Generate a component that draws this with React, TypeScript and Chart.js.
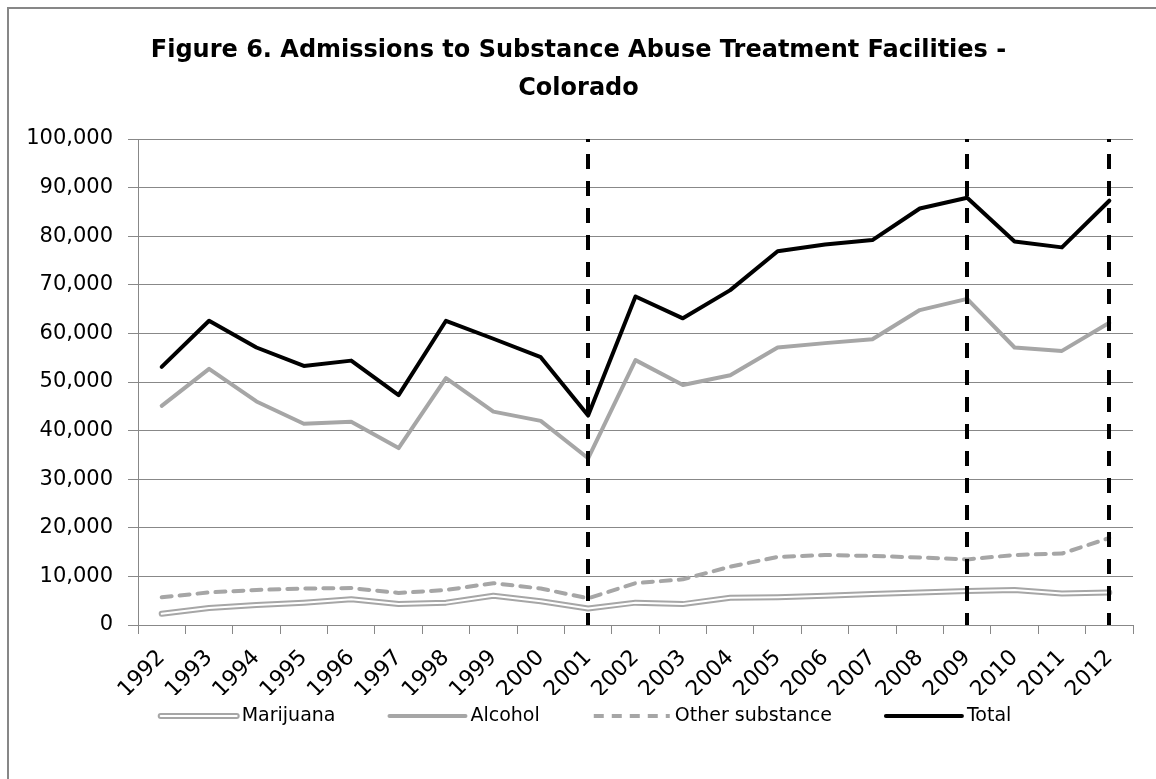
import React, { useEffect, useRef } from "react";
import { Chart, registerables } from "chart.js";

Chart.register(...registerables);

const years = ["1992","1993","1994","1995","1996","1997","1998","1999","2000","2001","2002","2003","2004","2005","2006","2007","2008","2009","2010","2011","2012"];
const marijuana = [2300,3500,4100,4600,5300,4300,4600,6000,4900,3400,4600,4300,5600,5700,6000,6400,6700,7000,7200,6500,6700];
const alcohol = [45100,52700,46000,41400,41800,36400,50800,43900,42000,34300,54500,49400,51400,57100,58000,58800,64800,67100,57100,56400,62200];
const otherSubstance = [5700,6700,7200,7500,7600,6600,7200,8600,7500,5500,8600,9400,12000,14000,14400,14200,13900,13500,14400,14700,17900];
const total = [53100,62600,57100,53300,54400,47300,62600,58900,55100,43100,67600,63100,68900,76900,78300,79200,85700,87900,78900,77700,87300];
const markerYears = ["2001","2009","2012"];
const titleLines = ["Figure 6. Admissions to Substance Abuse Treatment Facilities -", "Colorado"];
const seriesNames = ["Marijuana", "Alcohol", "Other substance", "Total"];

const FONT = "'DejaVu Sans', sans-serif";
const GRID = "#888888";
const GRAY = "#a6a6a6";

const framePlugin = {
  id: "frame",
  beforeDraw(chart: any) {
    const ctx = chart.ctx;
    ctx.save();
    ctx.fillStyle = "#ffffff";
    ctx.fillRect(0, 0, chart.width, chart.height);
    ctx.strokeStyle = "#878787";
    ctx.lineWidth = 2;
    ctx.beginPath();
    ctx.moveTo(8, chart.height);
    ctx.lineTo(8, 8);
    ctx.lineTo(chart.width, 8);
    ctx.stroke();
    ctx.restore();
  },
};

const markerPlugin = {
  id: "markers",
  afterDatasetsDraw(chart: any) {
    const ctx = chart.ctx;
    const x = chart.scales.x;
    const area = chart.chartArea;
    ctx.save();
    ctx.strokeStyle = "#000000";
    ctx.lineWidth = 4;
    ctx.setLineDash([15, 12]);
    ctx.lineDashOffset = 12;
    markerYears.forEach((yr) => {
      const px = Math.round(x.getPixelForValue(years.indexOf(yr)));
      ctx.beginPath();
      ctx.moveTo(px, area.top);
      ctx.lineTo(px, area.bottom);
      ctx.stroke();
    });
    ctx.restore();
  },
};

const legendPlugin = {
  id: "customLegend",
  afterDraw(chart: any) {
    const ctx = chart.ctx;
    const lineLen = 80;
    const textGap = 3;
    const itemGap = 52;
    const cy = 716;
    const cx = chart.width / 2 + 7;
    ctx.save();
    ctx.font = `19px ${FONT}`;
    const items = seriesNames.map((name, i) => {
      const ds: any = chart.data.datasets[i];
      return { name, ds, w: lineLen + textGap + ctx.measureText(name).width };
    });
    const totalW = items.reduce((a, it) => a + it.w, 0) + itemGap * (items.length - 1);
    let x = cx - totalW / 2;
    items.forEach((it, i) => {
      ctx.save();
      ctx.strokeStyle = it.ds.borderColor;
      ctx.lineWidth = it.ds.borderWidth;
      ctx.lineCap = it.ds.borderDash ? "butt" : "round";
      ctx.setLineDash(it.ds.borderDash || []);
      ctx.beginPath();
      ctx.moveTo(x + 2, cy);
      ctx.lineTo(x + lineLen - 2, cy);
      ctx.stroke();
      if (i === 0) {
        ctx.strokeStyle = "#ffffff";
        ctx.lineWidth = 2;
        ctx.beginPath();
        ctx.moveTo(x + 2, cy);
        ctx.lineTo(x + lineLen - 2, cy);
        ctx.stroke();
      }
      ctx.restore();
      ctx.fillStyle = "#000000";
      ctx.textAlign = "left";
      ctx.textBaseline = "middle";
      ctx.fillText(it.name, x + lineLen + textGap, cy);
      x += it.w + itemGap;
    });
    ctx.restore();
  },
};

export default function App() {
  const ref = useRef<HTMLCanvasElement | null>(null);
  useEffect(() => {
    document.body.style.margin = "0";
    document.body.style.overflow = "hidden";
    const canvas = ref.current;
    if (!canvas) return;
    const chart = new Chart(canvas, {
      type: "line",
      data: {
        labels: years,
        datasets: [
          {
            label: seriesNames[0],
            data: marijuana,
            borderColor: GRAY,
            backgroundColor: GRAY,
            borderWidth: 6,
            pointRadius: 0,
            borderJoinStyle: "round",
            borderCapStyle: "round",
          },
          {
            label: seriesNames[1],
            data: alcohol,
            borderColor: GRAY,
            backgroundColor: GRAY,
            borderWidth: 4,
            pointRadius: 0,
            borderJoinStyle: "round",
            borderCapStyle: "round",
          },
          {
            label: seriesNames[2],
            data: otherSubstance,
            borderColor: GRAY,
            backgroundColor: GRAY,
            borderWidth: 4,
            borderDash: [10, 8],
            pointRadius: 0,
            borderJoinStyle: "round",
            borderCapStyle: "round",
          },
          {
            label: seriesNames[3],
            data: total,
            borderColor: "#000000",
            backgroundColor: "#000000",
            borderWidth: 4,
            pointRadius: 0,
            borderJoinStyle: "round",
            borderCapStyle: "round",
          },
          {
            label: "Marijuana (inner)",
            data: marijuana,
            borderColor: "#ffffff",
            backgroundColor: "#ffffff",
            borderWidth: 2,
            pointRadius: 0,
            borderJoinStyle: "round",
            borderCapStyle: "round",
            order: -1,
          } as any,
        ],
      },
      options: {
        responsive: false,
        animation: false,
        events: [],
        layout: { padding: { left: 24, right: 23, top: 0, bottom: 84 } },
        plugins: {
          tooltip: { enabled: false },
          legend: { display: false },
          title: {
            display: true,
            text: titleLines,
            color: "#000000",
            font: { family: FONT, size: 24, weight: "bold", lineHeight: 38 / 24 },
            padding: { top: 32, bottom: 31 },
          },
        },
        scales: {
          x: {
            offset: true,
            afterFit: (s: any) => { s.height = 70; },
            grid: { display: true, drawOnChartArea: false, drawTicks: true, tickLength: 9, offset: true, color: GRID },
            border: { display: true, color: GRID, width: 1 },
            ticks: {
              autoSkip: false,
              maxRotation: 45,
              minRotation: 45,
              padding: 11,
              color: "#000000",
              font: { family: FONT, size: 22 },
            },
          },
          y: {
            min: 0,
            max: 100000,
            afterFit: (s: any) => { s.width = 114; },
            grid: { color: GRID, lineWidth: 1, drawTicks: true, tickLength: 10 },
            border: { display: true, color: GRID, width: 1 },
            ticks: {
              stepSize: 10000,
              padding: 15,
              color: "#000000",
              font: { family: FONT, size: 21 },
              callback: (v: any) => Number(v).toLocaleString("en-US"),
            },
          },
        },
      } as any,
      plugins: [framePlugin, markerPlugin, legendPlugin],
    });
    return () => chart.destroy();
  }, []);
  return <canvas ref={ref} width={1156} height={779} style={{ display: "block" }} />;
}
